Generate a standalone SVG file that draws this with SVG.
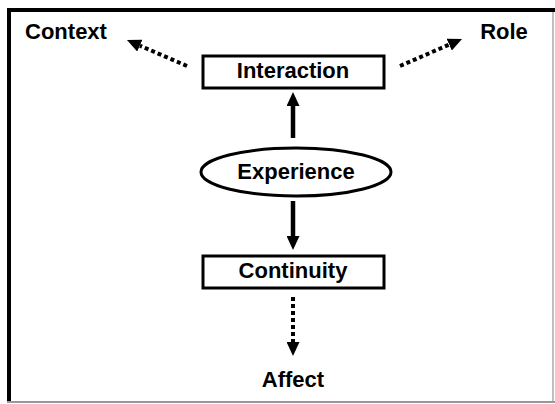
<svg xmlns="http://www.w3.org/2000/svg" width="555" height="404" viewBox="0 0 555 404">
  <style>
    .lbl { font-family: "Liberation Sans", Arial, sans-serif; font-weight: bold; font-size: 22px; fill: #000; text-anchor: middle; }
    .box { fill: #fff; stroke: #000; stroke-width: 3; }
    .solid { stroke: #000; stroke-width: 4.5; fill: none; }
    .dot { stroke: #000; stroke-width: 4; fill: none; stroke-dasharray: 4 3; }
  </style>
  <defs>
    <marker id="head" viewBox="0 0 14 13" refX="0" refY="6.5" markerWidth="14" markerHeight="13" markerUnits="userSpaceOnUse" orient="auto">
      <path d="M0,0 L14,6.5 L0,13 z" fill="#000"/>
    </marker>
  </defs>
  <rect width="555" height="404" fill="#fff"/>
  <g id="frame">
    <line x1="7" y1="10" x2="555" y2="10" stroke="#000" stroke-width="4"/>
    <line x1="9" y1="8" x2="9" y2="402" stroke="#000" stroke-width="4"/>
    <line x1="553" y1="12" x2="553" y2="402" stroke="#aaa" stroke-width="1.5"/>
    <line x1="7" y1="402" x2="555" y2="402" stroke="#999" stroke-width="2"/>
  </g>
  <g id="connectors">
    <line class="solid" x1="293" y1="138" x2="293" y2="106" marker-end="url(#head)"/>
    <line class="solid" x1="293" y1="201" x2="293" y2="236" marker-end="url(#head)"/>
    <line class="dot" x1="293" y1="297" x2="293" y2="342" marker-end="url(#head)"/>
    <line class="dot" x1="187" y1="66" x2="139.8" y2="45.6" marker-end="url(#head)"/>
    <line class="dot" x1="400" y1="66" x2="449.2" y2="44.6" marker-end="url(#head)"/>
  </g>
  <g id="interaction">
    <rect class="box" x="203" y="56" width="181" height="32"/>
    <text class="lbl" x="293" y="78">Interaction</text>
  </g>
  <g id="experience">
    <ellipse class="box" cx="296" cy="172" rx="95" ry="24" stroke-width="2.5"/>
    <text class="lbl" x="296" y="179">Experience</text>
  </g>
  <g id="continuity">
    <rect class="box" x="203" y="256" width="181" height="32"/>
    <text class="lbl" x="293" y="278">Continuity</text>
  </g>
  <g id="context">
    <text class="lbl" x="66" y="39">Context</text>
  </g>
  <g id="role">
    <text class="lbl" x="504" y="39">Role</text>
  </g>
  <g id="affect">
    <text class="lbl" x="293" y="387">Affect</text>
  </g>
</svg>
